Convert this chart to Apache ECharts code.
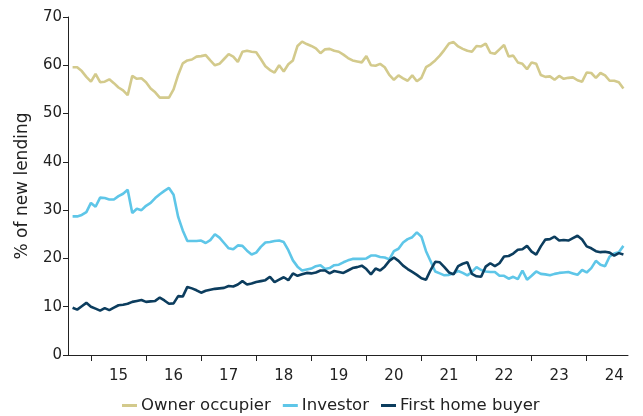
<!DOCTYPE html>
<html>
<head>
<meta charset="utf-8">
<script src="https://cdn.jsdelivr.net/npm/echarts@6/dist/echarts.min.js"></script>
<style>
  html, body { margin: 0; padding: 0; background: #fff; }
  #chart { width: 643px; height: 416px; }
</style>
</head>
<body>
<div id="chart"></div>
<script>
// monthly shares, Sep 2014 .. Sep 2024
const ownerOccupier = [
  59.6, 59.6, 58.8, 57.6, 56.6, 58.2, 56.5, 56.6, 57.1, 56.3,
  55.4, 54.8, 53.8, 57.8, 57.2, 57.3, 56.5, 55.2, 54.4, 53.3,
  53.3, 53.3, 55.0, 58.0, 60.4, 61.0, 61.2, 61.8, 61.9, 62.1,
  61.0, 60.0, 60.3, 61.3, 62.3, 61.8, 60.7, 62.8, 63.0, 62.8,
  62.7, 61.3, 59.8, 59.0, 58.5, 60.0, 58.7, 60.2, 61.0, 64.0,
  64.9, 64.4, 64.0, 63.5, 62.5, 63.3, 63.4, 63.0, 62.8, 62.2,
  61.5, 61.0, 60.8, 60.6, 61.9, 60.0, 59.9, 60.3, 59.6, 58.0,
  57.0, 57.9, 57.3, 56.8, 57.9, 56.7, 57.4, 59.6, 60.2, 61.0,
  62.0, 63.2, 64.5, 64.8, 63.9, 63.4, 63.0, 62.8, 64.0, 63.9,
  64.5, 62.6, 62.4, 63.3, 64.2, 61.8, 62.0, 60.6, 60.3, 59.2,
  60.6, 60.3, 58.0, 57.6, 57.7, 57.0, 57.8, 57.2, 57.4, 57.5,
  56.9, 56.6, 58.5, 58.4, 57.4, 58.4, 57.9, 56.8, 56.8, 56.5,
  55.2
];
const investor = [
  28.7, 28.7, 29.0, 29.6, 31.5, 30.7, 32.6, 32.5, 32.2, 32.2,
  32.9, 33.4, 34.2, 29.4, 30.3, 30.0, 30.9, 31.5, 32.5, 33.3,
  34.0, 34.6, 33.2, 28.6, 25.8, 23.6, 23.6, 23.6, 23.7, 23.2,
  23.8, 25.0, 24.3, 23.2, 22.1, 21.9, 22.7, 22.6, 21.6, 20.8,
  21.2, 22.4, 23.3, 23.4, 23.6, 23.7, 23.4, 21.7, 19.6, 18.3,
  17.5, 17.7, 17.9, 18.4, 18.6, 17.8, 18.0, 18.6, 18.7, 19.2,
  19.6, 19.9, 19.9, 19.9, 20.0, 20.6, 20.6, 20.3, 20.2, 19.8,
  21.5, 22.0, 23.3, 24.0, 24.4, 25.4, 24.5, 21.5, 19.4, 17.3,
  16.9, 16.5, 16.6, 16.9, 17.4, 17.0, 16.5, 17.2, 18.2, 17.6,
  17.3, 17.2, 17.2, 16.4, 16.4, 15.8, 16.2, 15.7, 17.5, 15.6,
  16.4, 17.3, 16.8, 16.7, 16.5, 16.8, 17.0, 17.1, 17.2, 16.9,
  16.6, 17.6, 17.1, 18.0, 19.5, 18.7, 18.4, 20.4, 21.0, 21.3,
  22.6
];
const firstHomeBuyer = [
  9.8, 9.4, 10.1, 10.8, 10.0, 9.6, 9.2, 9.7, 9.3, 9.8,
  10.3, 10.4, 10.6, 11.0, 11.2, 11.4, 11.0, 11.1, 11.2, 11.9,
  11.3, 10.6, 10.7, 12.2, 12.1, 14.1, 13.8, 13.4, 12.9, 13.3,
  13.5, 13.7, 13.8, 13.9, 14.3, 14.2, 14.6, 15.3, 14.6, 14.8,
  15.1, 15.3, 15.5, 16.2, 15.1, 15.6, 16.1, 15.5, 16.9, 16.4,
  16.7, 17.0, 16.9, 17.1, 17.5, 17.5, 16.9, 17.4, 17.2, 17.0,
  17.5, 18.0, 18.2, 18.5, 17.8, 16.7, 17.9, 17.5, 18.3, 19.5,
  20.2, 19.5, 18.5, 17.8, 17.2, 16.6, 15.9, 15.6, 17.6, 19.3,
  19.2, 18.2, 17.1, 16.7, 18.4, 18.9, 19.2, 16.8, 16.3, 16.2,
  18.3, 19.0, 18.4, 19.0, 20.4, 20.5, 21.0, 21.8, 21.9, 22.6,
  21.4, 20.8, 22.5, 23.9, 24.0, 24.5, 23.7, 23.8, 23.7, 24.2,
  24.7, 23.9, 22.5, 22.1, 21.5, 21.3, 21.4, 21.2, 20.6, 21.1,
  20.8
];
const seriesNames = ['Owner occupier', 'Investor', 'First home buyer'];
const seriesColors = ['#d3ca8c', '#5ec6e8', '#0c3d5e'];

// axis months: Aug 2014 .. Oct 2024 (one empty month each side)
const months = [];
for (let y = 2014, m = 8; y < 2024 || (y === 2024 && m <= 10); m++) {
  if (m > 12) { m = 1; y++ }
  months.push(y + '-' + String(m).padStart(2, '0'));
}
const pad = arr => [null, ...arr, null];

const font = 'DejaVu Sans';
const chart = echarts.init(document.getElementById('chart'));
chart.setOption({
  animation: false,
  grid: { left: 68, right: 15, top: 17, bottom: 61 },
  legend: {
    top: 392,
    left: 117,
    icon: 'rect',
    itemWidth: 15,
    itemHeight: 3,
    itemGap: 12,
    textStyle: { fontFamily: font, fontSize: 16.5, color: '#222', padding: [0, 0, 0, -1] },
    data: seriesNames
  },
  xAxis: {
    type: 'category',
    boundaryGap: false,
    data: months,
    axisLine: { lineStyle: { color: '#222', width: 1 } },
    axisTick: {
      interval: (i, v) => v.slice(5) === '01',
      length: 6,
      lineStyle: { color: '#222' }
    },
    axisLabel: {
      interval: (i, v) => v.slice(5) === '07',
      formatter: v => v.slice(2, 4),
      margin: 14,
      fontFamily: font,
      fontSize: 15,
      color: '#222'
    },
    splitLine: { show: false }
  },
  yAxis: {
    type: 'value',
    min: 0,
    max: 70,
    interval: 10,
    name: '% of new lending',
    nameLocation: 'middle',
    nameRotate: 90,
    nameGap: 37,
    nameTextStyle: { fontFamily: font, fontSize: 17, color: '#222' },
    axisLine: { show: true, lineStyle: { color: '#222', width: 1 } },
    axisTick: { show: true, length: 5, lineStyle: { color: '#222' } },
    axisLabel: { fontFamily: font, fontSize: 15, color: '#222', margin: 6 },
    splitLine: { show: false }
  },
  series: [ownerOccupier, investor, firstHomeBuyer].map((vals, i) => ({
    name: seriesNames[i],
    type: 'line',
    data: pad(vals),
    showSymbol: false,
    symbol: 'none',
    lineStyle: { width: 2.6, color: seriesColors[i] },
    itemStyle: { color: seriesColors[i] }
  }))
});
</script>
</body>
</html>
